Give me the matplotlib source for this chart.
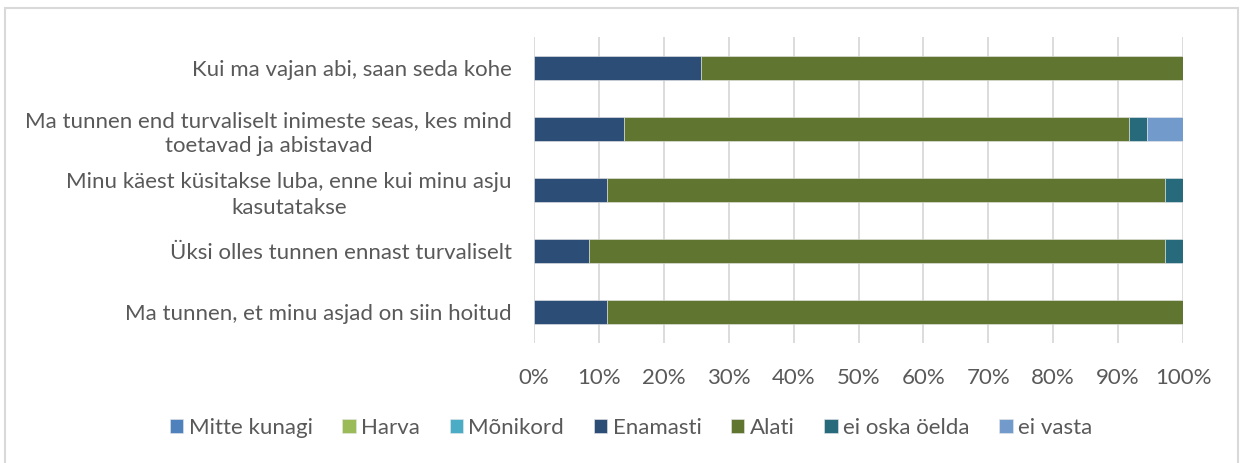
import matplotlib
matplotlib.use('Agg')
import matplotlib.pyplot as plt
from matplotlib.patches import Rectangle
from matplotlib.ticker import PercentFormatter

# categories listed top to bottom as in the chart
categories = [
    'Kui ma vajan abi, saan seda kohe',
    'Ma tunnen end turvaliselt inimeste seas, kes mind\ntoetavad ja abistavad',
    'Minu käest küsitakse luba, enne kui minu asju\nkasutatakse',
    'Üksi olles tunnen ennast turvaliselt',
    'Ma tunnen, et minu asjad on siin hoitud',
]
series_names = ['Mitte kunagi', 'Harva', 'Mõnikord', 'Enamasti', 'Alati',
                'ei oska öelda', 'ei vasta']
mitte_kunagi = [0, 0, 0, 0, 0]
harva = [0, 0, 0, 0, 0]
monikord = [0, 0, 0, 0, 0]
enamasti = [25.7, 13.9, 11.2, 8.5, 11.2]
alati = [74.3, 77.8, 86.0, 88.7, 88.8]
ei_oska = [0, 2.8, 2.8, 2.8, 0]
ei_vasta = [0, 5.5, 0, 0, 0]
colors = ['#4F81BD', '#9BBB59', '#4BACC6', '#2C4D75', '#5F7530',
          '#276A7C', '#729ACA']

text_col = '#595959'
plt.rcParams['font.family'] = ['Lato', 'DejaVu Sans']

fig = plt.figure(figsize=(12.4, 4.63), dpi=100)
ax = fig.add_axes([534 / 1240, 120 / 463, 649 / 1240, 306 / 463])

# outer chart border
fig.patches.append(Rectangle((5 / 1240, -0.05), 1233 / 1240, 1.05 - 8 / 463,
                             transform=fig.transFigure, fill=False,
                             edgecolor='#D9D9D9', linewidth=1.5))

ypos = list(range(len(categories)))[::-1]
left = [0] * len(categories)
all_series = [mitte_kunagi, harva, monikord, enamasti, alati, ei_oska, ei_vasta]
for name, vals, c in zip(series_names, all_series, colors):
    ax.barh(ypos, vals, left=left, height=0.39, color=c, label=name,
            edgecolor='#E8E8E8', linewidth=0.4, zorder=3)
    left = [l + v for l, v in zip(left, vals)]

ax.set_xlim(0, 100)
ax.set_ylim(-0.5, 4.5)
ax.set_xticks(range(0, 101, 10))
ax.xaxis.set_major_formatter(PercentFormatter(decimals=0))
ax.set_yticks(ypos)
ax.set_yticklabels(categories, multialignment='center', linespacing=1.35)
ax.grid(axis='x', color='#D9D9D9', linewidth=1.3, zorder=0)
for s in ax.spines.values():
    s.set_visible(False)
ax.tick_params(axis='both', length=0, labelsize=16, colors=text_col)
ax.tick_params(axis='y', pad=16)
ax.tick_params(axis='x', pad=18)

fig.legend(loc='center', bbox_to_anchor=(0.509, 1 - 428 / 463), ncol=7,
           frameon=False, fontsize=16, labelcolor=text_col,
           handlelength=0.6, handleheight=0.6, handletextpad=0.25,
           columnspacing=1.33)

fig.savefig('out.png', dpi=100)
